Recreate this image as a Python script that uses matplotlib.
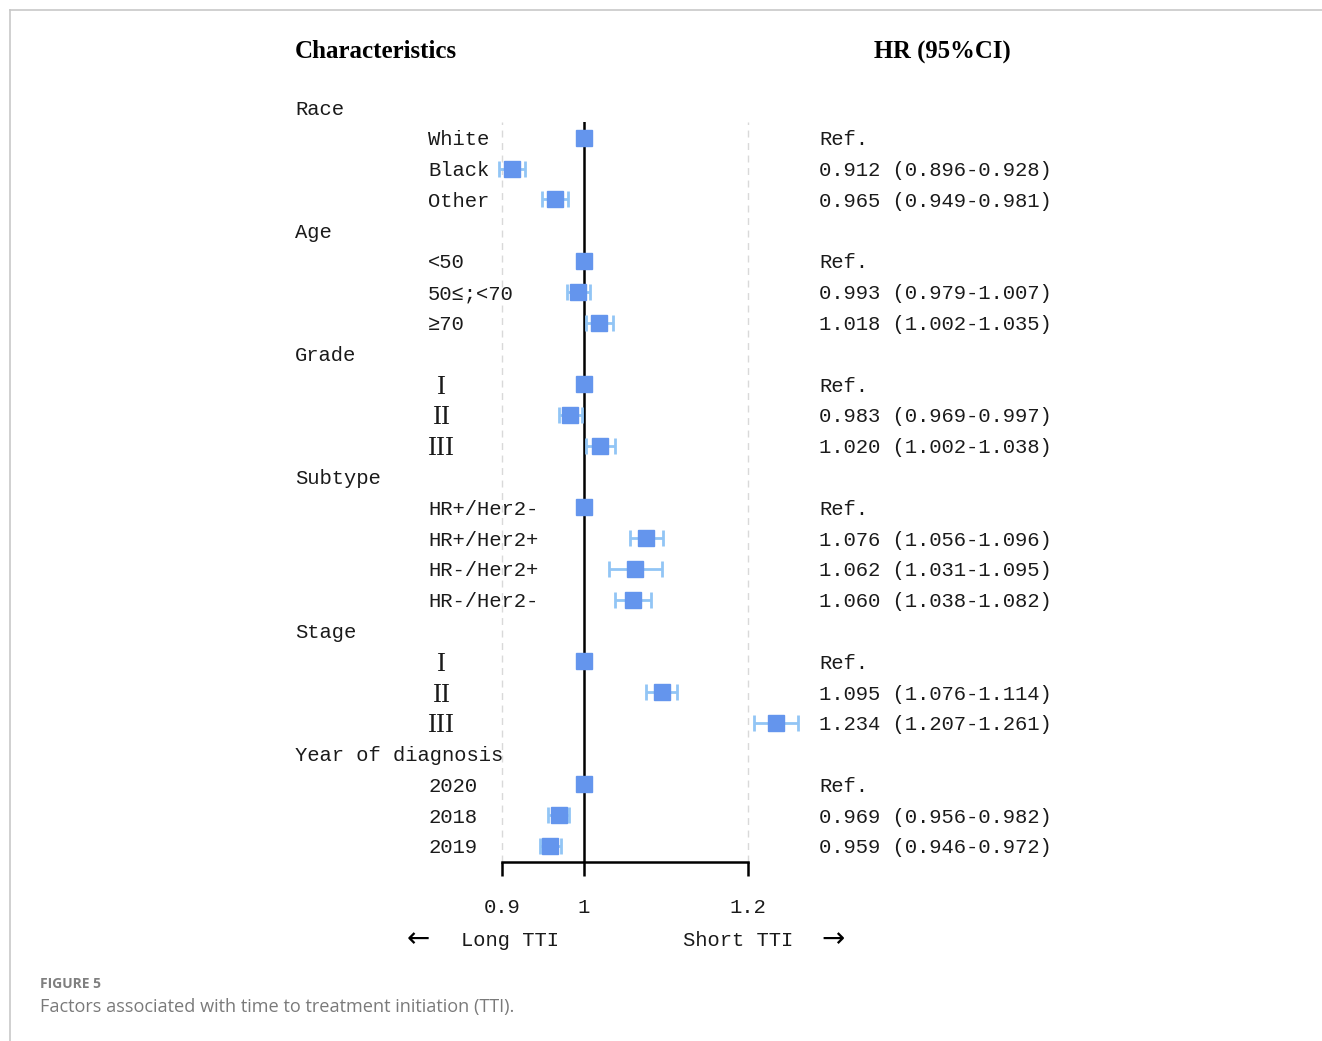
import numpy as np
import matplotlib.pyplot as plt
from matplotlib.lines import Line2D
from matplotlib.transforms import blended_transform_factory

# data
groups = ["Race", "Age", "Grade", "Subtype", "Stage", "Year of diagnosis"]
levels = [
    ["White", "Black", "Other"],
    ["<50", "50≤;<70", "≥70"],
    ["I", "II", "III"],
    ["HR+/Her2-", "HR+/Her2+", "HR-/Her2+", "HR-/Her2-"],
    ["I", "II", "III"],
    ["2020", "2018", "2019"],
]
hr = [
    [1.0, 0.912, 0.965],
    [1.0, 0.993, 1.018],
    [1.0, 0.983, 1.020],
    [1.0, 1.076, 1.062, 1.060],
    [1.0, 1.095, 1.234],
    [1.0, 0.969, 0.959],
]
lo = [
    [None, 0.896, 0.949],
    [None, 0.979, 1.002],
    [None, 0.969, 1.002],
    [None, 1.056, 1.031, 1.038],
    [None, 1.076, 1.207],
    [None, 0.956, 0.946],
]
hi = [
    [None, 0.928, 0.981],
    [None, 1.007, 1.035],
    [None, 0.997, 1.038],
    [None, 1.096, 1.095, 1.082],
    [None, 1.114, 1.261],
    [None, 0.982, 0.972],
]
xticks = [0.9, 1, 1.2]
xticklabels = ["0.9", "1", "1.2"]

W, H = 1322, 1041
mono = ["Liberation Mono", "DejaVu Sans Mono", "DejaVu Serif", "Noto Sans CJK SC"]
fs = 14.8
ink = "#1a1a1a"

fig = plt.figure(figsize=(W / 100, H / 100), dpi=100)

# forest axes: x px 440..800, y px 122..862
x0, x1 = 440, 800
y0, y1 = 122, 862
px_per_unit = 820.0
xlim = (1 + (x0 - 584) / px_per_unit, 1 + (x1 - 584) / px_per_unit)
row_px = 30.79
row0_px = 107
ylim = ((y1 - row0_px) / row_px, (y0 - row0_px) / row_px)
ax = fig.add_axes([x0 / W, 1 - y1 / H, (x1 - x0) / W, (y1 - y0) / H])
ax.set_xlim(*xlim)
ax.set_ylim(*ylim)
ax.patch.set_alpha(0)

for s in ["top", "right", "left"]:
    ax.spines[s].set_visible(False)
ax.spines["bottom"].set_bounds(0.9, 1.2)
ax.spines["bottom"].set_linewidth(1.8)
ax.set_yticks([])
ax.set_xticks(xticks)
ax.set_xticklabels(xticklabels, family=mono, fontsize=fs, color=ink)
ax.tick_params(axis="x", direction="out", length=10, width=1.8, pad=16)

ax.axvline(0.9, color="#d9d9d9", lw=1.0, ls=(0, (5, 4)), zorder=0)
ax.axvline(1.2, color="#d9d9d9", lw=1.0, ls=(0, (5, 4)), zorder=0)
ax.axvline(1.0, color="black", lw=1.8, zorder=1)

tr = blended_transform_factory(fig.transFigure, ax.transData)

row = 0
for g, labs, h, l, u in zip(groups, levels, hr, lo, hi):
    ax.text(295 / W, row, g, transform=tr, family=mono, fontsize=fs, color=ink,
            ha="left", va="center_baseline", clip_on=False)
    row += 1
    for lab, v, a, b in zip(labs, h, l, u):
        if lab in ("I", "II", "III"):
            # stage / grade numerals, centred in the level column
            ax.text(441 / W, row, lab, transform=tr, family="Liberation Serif",
                    fontsize=19.5, color=ink, ha="center", va="center_baseline",
                    clip_on=False)
        else:
            ax.text(428 / W, row, lab, transform=tr, family=mono, fontsize=fs,
                    color=ink, ha="left", va="center_baseline", clip_on=False)
        if a is None:
            ax.plot([v], [row], "s", color="#6495ED", ms=11.5, zorder=3)
            txt = "Ref."
        else:
            ax.errorbar([v], [row], xerr=[[v - a], [b - v]], fmt="none",
                        ecolor="#92C5F5", elinewidth=2.0, capsize=5.5,
                        capthick=2.0, zorder=2)
            ax.plot([v], [row], "s", color="#6495ED", ms=11.5, zorder=3)
            txt = f"{v:.3f} ({a:.3f}-{b:.3f})"
        ax.text(819 / W, row, txt, transform=tr, family=mono, fontsize=fs,
                color=ink, ha="left", va="center_baseline", clip_on=False)
        row += 1

# headers
fig.text(295 / W, 1 - 52 / H, "Characteristics", family="Liberation Serif",
         weight="bold", fontsize=18, ha="left", va="center")
fig.text(942 / W, 1 - 52 / H, "HR (95%CI)", family="Liberation Serif",
         weight="bold", fontsize=17.8, ha="center", va="center")

# direction labels
fig.text(418 / W, 1 - 939 / H, "←", family="DejaVu Sans", fontsize=20, ha="center", va="center")
fig.text(510 / W, 1 - 941 / H, "Long TTI", family=mono, fontsize=fs, color=ink,
         ha="center", va="center")
fig.text(738 / W, 1 - 941 / H, "Short TTI", family=mono, fontsize=fs, color=ink,
         ha="center", va="center")
fig.text(833 / W, 1 - 939 / H, "→", family="DejaVu Sans", fontsize=20, ha="center", va="center")

# caption
fig.text(40 / W, 1 - 984 / H, "FIGURE 5", family="Open Sans", weight="bold",
         fontsize=10, color="#7f7f7f", ha="left", va="center")
fig.text(40 / W, 1 - 1007 / H, "Factors associated with time to treatment initiation (TTI).",
         family="Open Sans", fontsize=13.1, color="#7a7a7a", ha="left", va="center")

# page frame
fig.add_artist(Line2D([9.5 / W, 1], [1 - 9.5 / H, 1 - 9.5 / H], color="#c8c8c8", lw=1.2))
fig.add_artist(Line2D([9.5 / W, 9.5 / W], [0, 1 - 9.5 / H], color="#c8c8c8", lw=1.2))

fig.savefig("out.png", dpi=100)
